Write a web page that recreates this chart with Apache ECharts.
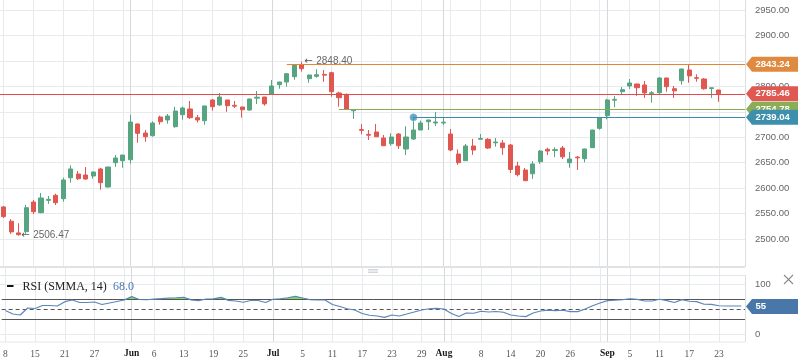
<!DOCTYPE html>
<html><head><meta charset="utf-8">
<script src="https://cdn.jsdelivr.net/npm/echarts@6/dist/echarts.min.js"></script>
<style>html,body{margin:0;padding:0;background:#fff}#c{width:798px;height:363px}</style>
</head><body><div id="c"></div>
<script>
// ---- data ----
const categories = ['0','1','2','3','4','5','6','7','8','9','10','11','12','13','14','15','16','17','18','19','20','21','22','23','24','25','26','27','28','29','30','31','32','33','34','35','36','37','38','39','40','41','42','43','44','45','46','47','48','49','50','51','52','53','54','55','56','57','58','59','60','61','62','63','64','65','66','67','68','69','70','71','72','73','74','75','76','77','78','79','80','81','82','83','84','85','86','87','88','89','90','91','92','93','94','95','96','97','98','99'];
const candleOpen = [2563,2535,2512,2514.4,2572.7,2551.7,2576,2585.9,2579.2,2620.5,
 2627.7,2625.8,2623.8,2637.6,2602.2,2650,2653.9,2655.8,2726,2708.3,
 2703,2739.7,2733.9,2720.7,2744.3,2755.5,2738.4,2732.5,2773.2,2763.3,
 2773.2,2762.7,2759.4,2753.5,2776.8,2779,2785,2803.2,2808.5,2819,
 2842.5,2815,2819.7,2823.5,2826.8,2786.9,2784.3,2752,2715,2705.5,
 2710.3,2698.5,2687.3,2706.3,2676.9,2696.5,2714.2,2730.5,2728,2728,
 2706.3,2667,2653.9,2682.8,2696,2695.9,2689,2688.7,2684.7,2643.5,
 2635.6,2628.3,2651.9,2676.3,2674,2678.8,2650,2661,2657.8,2679.4,
 2717.5,2742.3,2772.8,2789.5,2800.7,2804.6,2802.6,2785.8,2787.5,2816.4,
 2795.3,2811.1,2832.1,2817,2814.4,2795.8,2792.8];
const candleClose = [2544,2514,2508.5,2561.5,2553.7,2580.6,2578,2571.4,2616,2637.6,
 2618.5,2617.9,2631.7,2610.7,2641.5,2659.2,2665,2729.9,2707.7,2701,
 2727.9,2730.5,2741.7,2751.5,2757.4,2738.4,2733.9,2761.4,2760,2779,
 2761.9,2761,2754,2775,2778.6,2765.5,2800.7,2808.5,2824.8,2841.9,
 2834.7,2822.3,2822.9,2822,2789.5,2777.7,2754.78,2754,2713.5,2704,
 2701,2683.3,2700.4,2683.3,2700.4,2714.2,2727.9,2733.9,2730,2729.6,
 2674.9,2650,2682.8,2674.9,2697.6,2678.8,2690.6,2679.4,2636.6,2626.4,
 2614.6,2647.4,2672.9,2672.9,2675.6,2661.4,2657.2,2659.5,2676.9,2714.2,
 2738.4,2773.2,2774.4,2793.4,2806.6,2797.3,2787.1,2787.4,2816.4,2799.3,
 2791.1,2834.1,2820.5,2815.8,2795.3,2797.2,2785.46];
const candleLow = [2541,2510,2506.47,2510,2549,2550.5,2569,2566.8,2573.3,2610.7,
 2616,2616.5,2618.5,2596.9,2600.8,2641.8,2640,2648.4,2689.3,2691,
 2701,2724.6,2726.6,2718.7,2734.4,2736,2729,2724.6,2752,2761.9,
 2750,2757.4,2738.4,2752,2765.3,2762,2785,2795.3,2799.3,2813,
 2828.8,2807,2817,2809,2779.6,2760,2754.5,2736,2705.7,2694.5,
 2700.5,2683,2683.3,2676.9,2665,2694.5,2714,2714.2,2722.3,2723.7,
 2672.6,2645.7,2653.5,2665.3,2695.8,2676.9,2681.4,2665.3,2629.7,2623,
 2614.3,2618.2,2647.6,2665,2660.8,2657.2,2640,2635.8,2650.7,2679,
 2714.8,2735.2,2758.8,2785,2794.8,2781.3,2777.3,2767.8,2785,2789.5,
 2777.3,2803.2,2807,2809,2793.4,2777.3,2769.5];
const candleHigh = [2565,2539,2531,2567,2576.7,2590.4,2584.5,2589,2620.5,2644.8,
 2633.6,2641.5,2632.5,2639.8,2642,2665,2665.5,2743.7,2727.4,2714.2,
 2731.3,2742.3,2745.6,2760,2760,2771.2,2743.7,2762,2775,2786.9,
 2773.5,2771.2,2759.8,2776.1,2790.8,2779.5,2812.4,2809,2826.2,2843.9,
 2848.4,2822.8,2833.5,2832,2828.8,2789.5,2785.5,2755,2726,2714.2,
 2726,2704.4,2707.7,2708.3,2721.5,2739.04,2732.5,2734.3,2749.6,2737.8,
 2716.2,2676,2686.7,2696.8,2706.3,2698.5,2698.5,2694.5,2686.7,2651.6,
 2639.5,2652.9,2674.9,2679.4,2680.2,2682.8,2671,2663,2677.3,2714.5,
 2739,2775.4,2781,2798.7,2814.4,2805,2810.5,2790.8,2818.3,2816.8,
 2800.7,2834.5,2843.24,2823.6,2816.4,2797.5,2793];
const rsiValues = [47,40,38,52,51,57,57,56,64.7,68,
 63,63,64,59,62,65,68,74.7,69,68.5,
 69.8,70.8,72,72.5,73.5,68,66.7,70,70.3,73.3,
 67.3,66,63.5,67,67,63,69.5,70.5,72.5,75.3,
 72,68.5,68,68,59,55,50.5,48,41,37.5,
 36,33.3,38,36,40,44,48,50.5,51.3,50,
 41,35,42,41.5,45.5,44,45,43.5,38,36,
 34.7,42,46,47.7,46.7,47.5,44.7,44.7,50,56.5,
 62,66.7,67.5,68.5,70.5,69.3,66,66,69.5,66.7,
 63,68.7,65.5,64.7,59.5,59.3,56.5,56,56,56];
const rsiOverbought = 70, rsiMid = 50, rsiOversold = 30;
const rsiLegendName = 'RSI (SMMA, 14)';
const rsiLegendValue = '68.0';
const rsiTagValue = 55;

const gridTickIndex = [0,4,8,12,16,20,24,28,32,36,40,44,48,52,56,60,64,68,72,76,80,84,88,92,96];
const dayTickIndex = [0,4,8,12,20,24,28,32,40,44,48,52,56,64,68,72,76,84,88,92,96];
const dayTickText = ['8','15','21','27','6','13','19','25','5','11','17','23','29','8','14','20','26','5','11','17','23'];
const monthIndex = [17,36,59,81];
const monthText = ['Jun','Jul','Aug','Sep'];

const priceTicks = {min:2500, max:2950, step:50};
const levelValues = [2843.24, 2785.46, 2754.78, 2739.04];
const levelStart  = [38, null, 45, 55];
const levelColors = ['#e5852f', '#e24b47', '#8aab52', '#3a8caa'];
const tagColors   = ['#e08a40', '#e05852', '#8bad57', '#3d8fab'];
const markerIndex = [55];
const markerValue = [2739.04];
const annotIndex = [40, 2];
const annotValue = [2848.40, 2506.47];

// ---- chart ----
const UP = '#56a580', DOWN = '#e05751';
const chart = echarts.init(document.getElementById('c'), null, {renderer:'canvas', width:798, height:363});
const candleData = candleOpen.map((o, i) => [o, candleClose[i], candleLow[i], candleHigh[i]]);
const rsiBase = rsiValues.map(() => rsiOverbought);
const rsiExcess = rsiValues.map(v => Math.max(0, v - rsiOverbought));

const vGridLines = gridTickIndex.map(i => ({xAxis: categories[i]}))
  .concat(monthIndex.map(i => ({xAxis: categories[i], lineStyle:{color:'#d6d9dc'}})));
const vGridMarkLine = {
  silent:true, symbol:['none','none'], z:1, animation:false,
  label:{show:false}, lineStyle:{color:'#e7eaed', width:1, type:'solid'},
  data: vGridLines
};

const serif = '"Liberation Serif", "Times New Roman", serif';
const sans = '"Liberation Sans", Arial, sans-serif';

chart.setOption({
  animation:false,
  grid:[
    {left:0, top:0, width:745, height:267},
    {left:0, top:10, width:745, height:229},
    {left:0, top:267, width:745, height:75},
    {left:0, top:284, width:745, height:50}
  ],
  xAxis:[
    {type:'category', gridIndex:0, data:categories, boundaryGap:true, axisLine:{show:false}, axisTick:{show:false}, axisLabel:{show:false}, splitLine:{show:false}},
    {type:'value', gridIndex:1, show:false, min:0, max:1},
    {type:'category', gridIndex:2, data:categories, boundaryGap:true, axisLine:{show:false}, axisTick:{show:false}, splitLine:{show:false},
      axisLabel:{
        show:true, margin:7, color:'#555', fontFamily:serif, fontSize:9.5,
        interval:(idx) => monthIndex.indexOf(idx) >= 0 || dayTickIndex.indexOf(idx) >= 0,
        formatter:(val) => {
          const i = categories.indexOf(val);
          const m = monthIndex.indexOf(i);
          if (m >= 0) return '{m|' + monthText[m] + '}';
          const d = dayTickIndex.indexOf(i);
          return d >= 0 ? dayTickText[d] : '';
        },
        rich:{m:{fontWeight:'bold', color:'#1a1a1a', fontFamily:serif, fontSize:9.5}}
      }},
    {type:'value', gridIndex:3, show:false, min:0, max:1}
  ],
  yAxis:[
    {type:'value', gridIndex:0, min:2445, max:2969.65, show:false},
    {type:'value', gridIndex:1, position:'right', min:priceTicks.min, max:priceTicks.max, interval:priceTicks.step,
      axisLine:{show:false}, axisTick:{show:false},
      axisLabel:{formatter:(v) => v.toFixed(2), color:'#666', fontSize:9.5, fontFamily:sans, margin:10},
      splitLine:{lineStyle:{color:'#e8ebee', width:1}}},
    {type:'value', gridIndex:2, min:-16, max:134, show:false},
    {type:'value', gridIndex:3, position:'right', min:0, max:100, interval:100,
      axisLine:{show:false}, axisTick:{show:false},
      axisLabel:{color:'#666', fontSize:9.5, fontFamily:sans, margin:10},
      splitLine:{lineStyle:{color:'#e8ebee', width:1}}}
  ],
  series:[
    {type:'candlestick', xAxisIndex:0, yAxisIndex:0, data:candleData, barWidth:4.6, clip:false, z:3,
      itemStyle:{color:UP, color0:DOWN, borderColor:UP, borderColor0:DOWN, borderWidth:1},
      markLine: vGridMarkLine},
    {type:'scatter', xAxisIndex:0, yAxisIndex:0, z:8, symbolSize:7,
      data: markerIndex.map((i, k) => [categories[i], markerValue[k]]),
      itemStyle:{color:'#3f90b8', borderColor:'#7fb8d6', borderWidth:1}},
    {type:'line', xAxisIndex:2, yAxisIndex:2, data:rsiBase, stack:'ob', symbol:'none', showSymbol:false, z:1,
      lineStyle:{width:0, opacity:0}, markLine: vGridMarkLine},
    {type:'line', xAxisIndex:2, yAxisIndex:2, data:rsiExcess, stack:'ob', symbol:'none', showSymbol:false, z:2,
      lineStyle:{width:0, opacity:0}, areaStyle:{color:'#7ddf5c', opacity:1}},
    {type:'line', xAxisIndex:2, yAxisIndex:2, data:rsiValues, symbol:'none', showSymbol:false, z:4,
      lineStyle:{color:'#5b86b9', width:1.2},
      markLine:{silent:true, symbol:['none','none'], z:3, animation:false, label:{show:false},
        data:[
          {yAxis:rsiOverbought, lineStyle:{color:'#555', width:1, type:'solid'}},
          {yAxis:rsiOversold, lineStyle:{color:'#555', width:1, type:'solid'}},
          {yAxis:rsiMid, lineStyle:{color:'#555', width:1, type:[4,3]}}
        ]}}
  ]
});

// ---- overlays positioned through the chart's own scales ----
const px = (i) => chart.convertToPixel({xAxisIndex:0}, categories[i]);
const py = (v) => chart.convertToPixel({yAxisIndex:0}, v);
const pyRsi = (v) => chart.convertToPixel({yAxisIndex:2}, v);
const right = 745;
const g = [];
const border = '#dcdfe2';
g.push({type:'line', z:30, shape:{x1:0, y1:267, x2:right, y2:267}, style:{stroke:'#e0e3e6', lineWidth:2}});
g.push({type:'line', z:30, shape:{x1:right+0.5, y1:0, x2:right+0.5, y2:267}, style:{stroke:border, lineWidth:1}});
g.push({type:'line', z:30, shape:{x1:0, y1:275.5, x2:right, y2:275.5}, style:{stroke:'#e3e6e9', lineWidth:1}});
g.push({type:'line', z:30, shape:{x1:0, y1:342, x2:right, y2:342}, style:{stroke:'#e3e6e9', lineWidth:1}});
g.push({type:'line', z:30, shape:{x1:right+0.5, y1:275, x2:right+0.5, y2:342}, style:{stroke:border, lineWidth:1}});
[269.5, 271, 272.5].forEach(y => g.push({type:'line', z:30, shape:{x1:368, y1:y, x2:378, y2:y}, style:{stroke:'#c9ccd0', lineWidth:0.8}}));
g.push({type:'line', z:30, shape:{x1:784, y1:275, x2:793, y2:284}, style:{stroke:'#8a8a8a', lineWidth:1.1}});
g.push({type:'line', z:30, shape:{x1:793, y1:275, x2:784, y2:284}, style:{stroke:'#8a8a8a', lineWidth:1.1}});
levelValues.forEach((v, k) => {
  const y = Math.round(py(v)) + 0.5;
  const x0 = levelStart[k] === null ? 0 : px(levelStart[k]);
  g.push({type:'line', z:40 + k, shape:{x1:x0, y1:y, x2:right, y2:y}, style:{stroke:levelColors[k], lineWidth:1.2}});
});
const tag = (y, color, text, z) => {
  g.push({type:'polygon', z:z, shape:{points:[[746, y], [752, y - 7.5], [798, y - 7.5], [798, y + 7.5], [752, y + 7.5]]}, style:{fill:color}});
  g.push({type:'text', z:z + 1, x:755.5, y:y, style:{text:text, fill:'#fff', font:'bold 9.5px ' + sans, verticalAlign:'middle', align:'left'}});
};
levelValues.forEach((v, k) => tag(py(v), tagColors[k], v.toFixed(2), 60 + k * 2));
tag(pyRsi(rsiTagValue), '#4a77aa', String(rsiTagValue), 70);
annotIndex.forEach((i, k) => {
  const x = px(i), y = py(annotValue[k]);
  g.push({type:'text', z:50, x:x + 2.5, y:y, style:{text:'\u2190', fill:'#555', font:'10px "DejaVu Sans", sans-serif', verticalAlign:'middle', align:'left'}});
  g.push({type:'text', z:50, x:x + 14.5, y:y, style:{text:annotValue[k].toFixed(2), fill:'#666', font:'10px ' + sans, verticalAlign:'middle', align:'left'}});
});
g.push({type:'rect', z:50, shape:{x:7, y:285, width:6.5, height:2}, style:{fill:'#111'}});
g.push({type:'text', z:50, x:22.5, y:286.5, style:{text:rsiLegendName, fill:'#222', font:'12px ' + serif, verticalAlign:'middle', align:'left'}});
g.push({type:'text', z:50, x:113, y:286.5, style:{text:rsiLegendValue, fill:'#4b78b2', font:'12px ' + serif, verticalAlign:'middle', align:'left'}});
chart.setOption({graphic:g});
</script>
</body></html>
